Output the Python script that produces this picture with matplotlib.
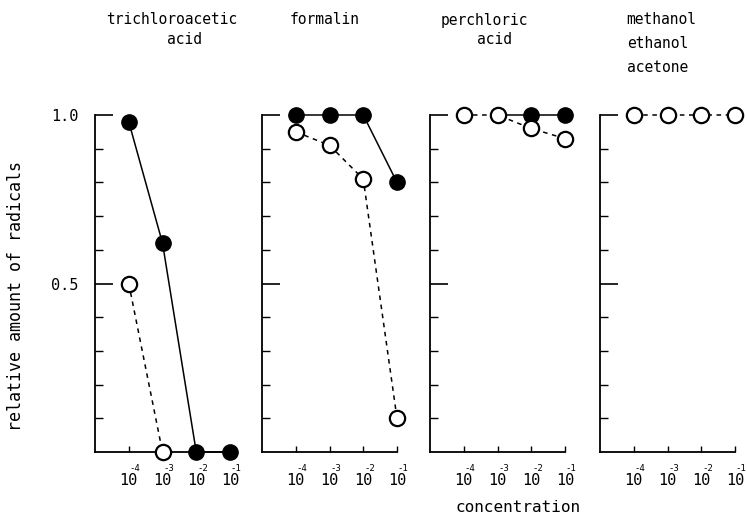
import matplotlib
matplotlib.use("Agg")
import matplotlib.pyplot as plt
from matplotlib.ticker import FixedLocator

plt.rcParams['font.family'] = ['DejaVu Sans Mono']

W, H = 747, 519

# ---- data ----
concentrations = [1e-4, 1e-3, 1e-2, 1e-1]
exponents = ["-4", "-3", "-2", "-1"]
panel_titles = [["trichloroacetic", "acid"], ["formalin"], ["perchloric", "acid"],
                ["methanol", "ethanol", "acetone"]]

filled_x = [[1e-4, 1e-3, 1e-2, 1e-1], [1e-4, 1e-3, 1e-2, 1e-1], [1e-3, 1e-2, 1e-1], []]
filled_y = [[0.98, 0.62, 0.0, 0.0], [1.0, 1.0, 1.0, 0.80], [1.0, 1.0, 1.0], []]
open_x = [[1e-4, 1e-3], [1e-4, 1e-3, 1e-2, 1e-1], [1e-4, 1e-3, 1e-2, 1e-1], [1e-4, 1e-3, 1e-2, 1e-1]]
open_y = [[0.50, 0.0], [0.95, 0.91, 0.81, 0.10], [1.0, 1.0, 0.96, 0.93], [1.0, 1.0, 1.0, 1.0]]

fig = plt.figure(figsize=(W / 100, H / 100), dpi=100)

lefts = [95, 262, 430, 600]
width_px = 135
bottom_px, top_px = 452, 115

def px(x, y):
    return x / W, 1 - y / H

for i, left in enumerate(lefts):
    ax = fig.add_axes([left / W, 1 - bottom_px / H, width_px / W, (bottom_px - top_px) / H])
    ax.set_xscale('log')
    ax.set_xlim(1e-5, 1e-1)
    ax.set_ylim(0, 1.0)
    for s in ['top', 'right']:
        ax.spines[s].set_visible(False)
    for s in ['left', 'bottom']:
        ax.spines[s].set_linewidth(1.3)
    ax.xaxis.set_major_locator(FixedLocator(concentrations))
    ax.xaxis.set_minor_locator(FixedLocator([]))
    ax.set_xticklabels(["10"] * len(concentrations), fontsize=11)
    ax.tick_params(axis='x', direction='in', length=4, width=1.0, pad=15)
    ax.yaxis.set_major_locator(FixedLocator([0.5, 1.0]))
    ax.yaxis.set_minor_locator(FixedLocator([0.1, 0.2, 0.3, 0.4, 0.6, 0.7, 0.8, 0.9]))
    ax.tick_params(axis='y', which='major', direction='in', length=13, width=1.2, pad=12)
    ax.tick_params(axis='y', which='minor', direction='in', length=6, width=1.0)
    if i == 0:
        ax.set_yticklabels(["0.5", "1.0"], fontsize=11)
    else:
        ax.set_yticklabels([])
    for c, e in zip(concentrations, exponents):
        ax.annotate(e, xy=(c, 0), xycoords=('data', 'axes fraction'),
                    xytext=(4.5, -12), textcoords='offset points',
                    ha='center', va='center', fontsize=6.5)

    if filled_x[i]:
        ax.plot(filled_x[i], filled_y[i], '-', color='black', lw=1.1,
                marker='o', ms=11, mfc='black', mec='black', clip_on=False, zorder=3)
    ax.plot(open_x[i], open_y[i], color='black', lw=1.1, linestyle=(0, (3, 3)),
            marker='o', ms=11, mfc='white', mec='black', mew=1.6, clip_on=False, zorder=4)

# titles
title_pos = [[(172, 20), (185, 40)], [(325, 20)], [(484, 20), (494, 39)],
             [(661, 20), (658, 44), (658, 68)]]
for lines, poss in zip(panel_titles, title_pos):
    for t, (x, y) in zip(lines, poss):
        fig.text(*px(x, y), t, ha='center', va='center', fontsize=10.5)

fig.text(*px(16, 296), "relative amount of radicals", rotation=90,
         ha='center', va='center', fontsize=12)
fig.text(*px(518, 508), "concentration", ha='center', va='center', fontsize=11.5)

fig.savefig("out.png", dpi=100)
